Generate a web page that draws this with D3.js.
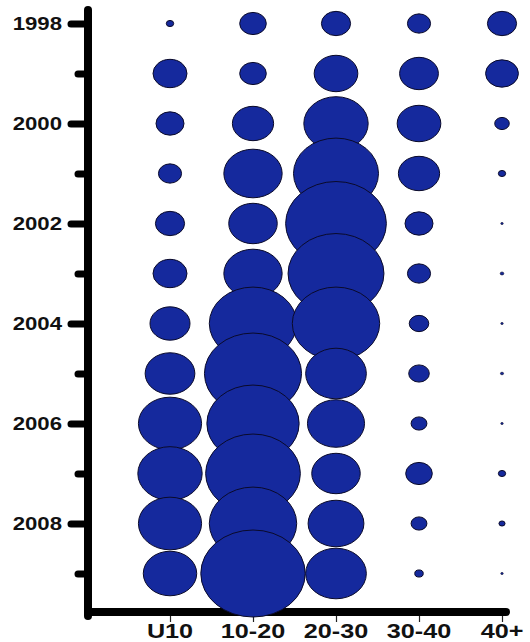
<!DOCTYPE html>
<html>
<head>
<meta charset="utf-8">
<script src="https://cdn.jsdelivr.net/npm/d3@7"></script>
<style>
  html, body { margin: 0; padding: 0; background: #fff; }
  svg { display: block; }
</style>
</head>
<body>
<svg id="chart" width="530" height="642"></svg>
<script>
// ---- data ----
const categories = ["U10", "10-20", "20-30", "30-40", "40+"];
const years = [1998, 1999, 2000, 2001, 2002, 2003, 2004, 2005, 2006, 2007, 2008, 2009];
const yearTickLabels = ["1998", "2000", "2002", "2004", "2006", "2008"];
// relative bubble sizes (area) per category, one value per year
const valuesU10   = [0.5, 10.6, 7.2, 4.9, 7.8, 10.6, 14.7, 22.7, 36.6, 38.0, 36.6, 26.2];
const values10_20 = [6.5, 6.5, 15.6, 31.2, 21.6, 31.2, 70.1, 86.5, 78.1, 82.3, 70.1, 100];
const values20_30 = [7.8, 17.5, 38.0, 66.3, 93.1, 84.4, 70.1, 33.8, 29.9, 21.6, 28.6, 33.8];
const values30_40 = [4.9, 13.8, 17.5, 15.6, 7.2, 4.9, 3.5, 3.9, 2.3, 6.5, 2.3, 0.66];
const values40p   = [7.8, 9.9, 1.95, 0.49, 0.06, 0.12, 0.06, 0.09, 0.06, 0.49, 0.34, 0.06];
const seriesValues = [valuesU10, values10_20, values20_30, values30_40, values40p];

// ---- layout ----
const svg = d3.select("#chart");
const FILL = "#15299d";
const STRETCH = 1.2; // horizontal stretch of the original picture

const x = d3.scalePoint().domain(categories).range([170, 502]);
const y = d3.scaleLinear().domain([1998, 2009]).range([23.5, 573.5]);
const r = d3.scaleSqrt().domain([0, 100]).range([0, 43.5]);

const axisX = 88, axisY = 612;
const yTop = y(1998) - 13.5;

// bubbles data
const bubbles = [];
categories.forEach((c, ci) => {
  years.forEach((yr, yi) => {
    bubbles.push({ cat: c, year: yr, value: seriesValues[ci][yi] });
  });
});

// ---- axes ----
const axes = svg.append("g");

// left axis: major ticks (even years) and minor ticks (odd years)
const majorAxis = d3.axisLeft(y)
  .tickValues(years.filter(d => d % 2 === 0))
  .tickSize(17).tickSizeOuter(0).tickFormat("");
const minorAxis = d3.axisLeft(y)
  .tickValues(years.filter(d => d % 2 === 1))
  .tickSize(10).tickSizeOuter(0).tickFormat("");

[majorAxis, minorAxis].forEach(ax => {
  const g = axes.append("g").attr("transform", `translate(${axisX},0)`).call(ax);
  g.select(".domain").remove();
  g.selectAll(".tick line")
    .attr("stroke", "#000").attr("stroke-width", 7).attr("stroke-linecap", "round");
});

// bottom axis ticks
const gx = axes.append("g").attr("transform", `translate(0,${axisY + 4})`)
  .call(d3.axisBottom(x).tickSize(6).tickSizeOuter(0).tickFormat(""));
gx.select(".domain").remove();
gx.selectAll(".tick line").attr("stroke", "#222").attr("stroke-width", 1.2);

// axis spines
axes.append("line")
  .attr("x1", axisX).attr("x2", axisX).attr("y1", yTop).attr("y2", axisY + 4)
  .attr("stroke", "#000").attr("stroke-width", 8).attr("stroke-linecap", "round");
axes.append("line")
  .attr("x1", axisX).attr("x2", x("40+") + 4).attr("y1", axisY).attr("y2", axisY)
  .attr("stroke", "#000").attr("stroke-width", 8).attr("stroke-linecap", "round");

// y labels
svg.append("g").selectAll("text").data(yearTickLabels).join("text")
  .attr("transform", d => `translate(62,${y(+d) + 6.5}) scale(${STRETCH},1)`)
  .attr("text-anchor", "end")
  .attr("font-family", "'Liberation Sans', Arial, sans-serif")
  .attr("font-weight", "bold")
  .attr("font-size", 18.5)
  .attr("fill", "#111")
  .text(d => d);

// x labels
svg.append("g").selectAll("text").data(categories).join("text")
  .attr("transform", d => `translate(${x(d)},638) scale(${STRETCH},1)`)
  .attr("text-anchor", "middle")
  .attr("font-family", "'Liberation Sans', Arial, sans-serif")
  .attr("font-weight", "bold")
  .attr("font-size", 21)
  .attr("fill", "#111")
  .text(d => d);

// ---- bubbles ----
svg.append("g").selectAll("ellipse").data(bubbles).join("ellipse")
  .attr("cx", d => x(d.cat))
  .attr("cy", d => y(d.year))
  .attr("rx", d => r(d.value) * STRETCH)
  .attr("ry", d => r(d.value))
  .attr("fill", FILL)
  .attr("stroke", "#0a0a2a")
  .attr("stroke-width", d => r(d.value) < 2 ? 0.6 : 1);
</script>
</body>
</html>
